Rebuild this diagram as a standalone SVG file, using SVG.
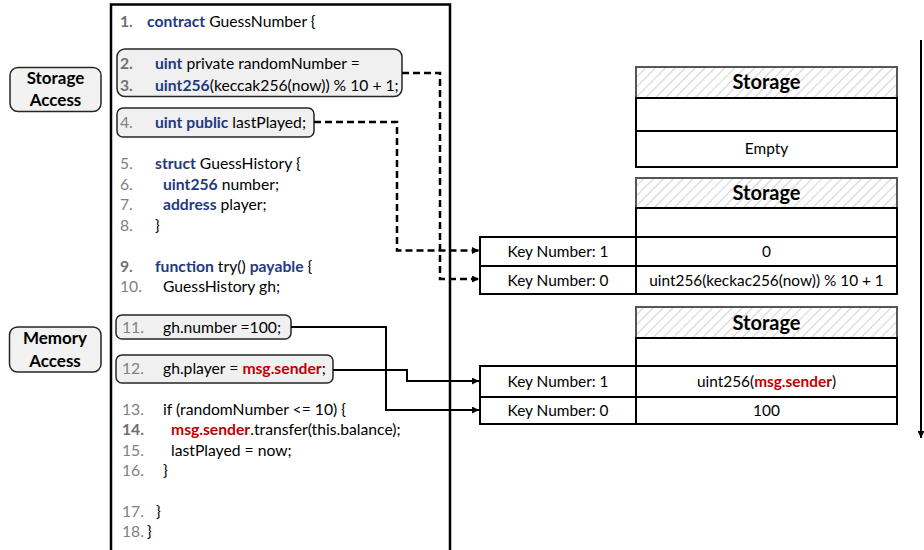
<svg xmlns="http://www.w3.org/2000/svg" width="924" height="550" viewBox="0 0 924 550">
  <defs>
    <pattern id="hatch" patternUnits="userSpaceOnUse" width="7" height="7" patternTransform="rotate(45)">
      <rect width="7" height="7" fill="#ffffff"/>
      <line x1="0" y1="0" x2="0" y2="7" stroke="#d4d4d4" stroke-width="2.2"/>
    </pattern>
    <marker id="arrow" viewBox="0 0 10 10" refX="10" refY="5" markerWidth="8" markerHeight="7" markerUnits="userSpaceOnUse" orient="auto">
      <path d="M0,0 L10,5 L0,10 z" fill="#000000"/>
    </marker>
    <marker id="arrowDown" viewBox="0 0 10 10" refX="10" refY="5" markerWidth="9" markerHeight="7" markerUnits="userSpaceOnUse" orient="auto">
      <path d="M0,0 L10,5 L0,10 z" fill="#000000"/>
    </marker>
  </defs>
  <style>
    text { font-family: Lato, "Open Sans", "Liberation Sans", sans-serif; fill: #000000; }
    .code { font-size: 15.7px; }
    .ln { fill: #808080; }
    .lnb { fill: #707070; font-weight: bold; }
    .kw { fill: #1f3a80; font-weight: bold; }
    .red { fill: #c00000; font-weight: bold; }
    .label { font-size: 17px; font-weight: bold; text-anchor: middle; }
    .tag { fill: #f2f2f2; stroke: #262626; stroke-width: 1.5; }
    .hl { fill: #f0f0f0; stroke: #262626; stroke-width: 1.5; }
    .cell { fill: #ffffff; stroke: #000000; stroke-width: 2; }
    .head { fill: url(#hatch); stroke: #555555; stroke-width: 2; }
    .title { font-size: 20px; font-weight: bold; text-anchor: middle; }
    .val { font-size: 15.4px; text-anchor: middle; }
    .dash { fill: none; stroke: #000000; stroke-width: 2.5; stroke-dasharray: 7 4; }
    .solid { fill: none; stroke: #000000; stroke-width: 2; }
  </style>

  <!-- side labels -->
  <g id="storage-access">
    <rect class="tag" x="10" y="67.5" width="91" height="44" rx="8"/>
    <text class="label" x="55.5" y="84">Storage</text>
    <text class="label" x="55.5" y="106">Access</text>
  </g>
  <g id="memory-access">
    <rect class="tag" x="9.5" y="327" width="91.5" height="45" rx="8"/>
    <text class="label" x="55" y="344">Memory</text>
    <text class="label" x="55" y="367">Access</text>
  </g>

  <!-- source listing -->
  <g id="code">
    <path d="M111,560 V4.5 H450 V560" fill="none" stroke="#000000" stroke-width="2.5"/>
    <rect class="hl" x="117" y="49" width="285" height="47.5" rx="8"/>
    <rect class="hl" x="117" y="108" width="197" height="29" rx="6"/>
    <rect class="hl" x="116" y="315" width="175" height="24" rx="6"/>
    <rect class="hl" x="116" y="355" width="217" height="28" rx="6"/>
    <g class="code">
      <text x="120" y="26.5"><tspan class="lnb">1.</tspan><tspan x="147" class="kw">contract</tspan> GuessNumber {</text>
      <text x="120" y="69"><tspan class="lnb">2.</tspan><tspan x="155" class="kw">uint</tspan> private randomNumber =</text>
      <text x="120" y="91"><tspan class="lnb">3.</tspan><tspan x="155" class="kw">uint256</tspan>(keccak256(now)) % 10 + 1;</text>
      <text x="120" y="128"><tspan class="ln">4.</tspan><tspan x="155" class="kw">uint public</tspan> lastPlayed;</text>
      <text x="120" y="169"><tspan class="ln">5.</tspan><tspan x="155" class="kw">struct</tspan> GuessHistory {</text>
      <text x="120" y="190"><tspan class="ln">6.</tspan><tspan x="163" class="kw">uint256</tspan> number;</text>
      <text x="120" y="210"><tspan class="ln">7.</tspan><tspan x="163" class="kw">address</tspan> player;</text>
      <text x="120" y="230.5"><tspan class="ln">8.</tspan><tspan x="155">}</tspan></text>
      <text x="120" y="271.5"><tspan class="lnb">9.</tspan><tspan x="155" class="kw">function</tspan> try() <tspan class="kw">payable</tspan> {</text>
      <text x="120" y="291.5"><tspan class="ln">10.</tspan><tspan x="163">GuessHistory gh;</tspan></text>
      <text x="122" y="332.5"><tspan class="ln">11.</tspan><tspan x="163">gh.number =100;</tspan></text>
      <text x="122" y="373.5"><tspan class="ln">12.</tspan><tspan x="163">gh.player = </tspan><tspan class="red">msg.sender</tspan>;</text>
      <text x="122" y="415"><tspan class="ln">13.</tspan><tspan x="163">if (randomNumber &lt;= 10) {</tspan></text>
      <text x="122" y="435"><tspan class="lnb">14.</tspan><tspan x="171" class="red">msg.sender</tspan>.transfer(this.balance);</text>
      <text x="122" y="455.5"><tspan class="ln">15.</tspan><tspan x="171">lastPlayed = now;</tspan></text>
      <text x="122" y="475.5"><tspan class="ln">16.</tspan><tspan x="163">}</tspan></text>
      <text x="122" y="516.5"><tspan class="ln">17.</tspan><tspan x="156">}</tspan></text>
      <text x="122" y="536.5"><tspan class="ln">18.</tspan><tspan x="147">}</tspan></text>
    </g>
  </g>

  <!-- storage state before -->
  <g id="storage-empty">
    <rect class="head" x="636" y="67" width="261" height="31"/>
    <rect class="cell" x="636" y="98" width="261" height="33"/>
    <rect class="cell" x="636" y="131" width="261" height="36"/>
    <text class="title" x="766.5" y="89">Storage</text>
    <text class="val" x="766.5" y="154">Empty</text>
  </g>

  <!-- storage after state variables -->
  <g id="storage-state">
    <rect class="head" x="636" y="178" width="261" height="30"/>
    <rect class="cell" x="636" y="208" width="261" height="29"/>
    <rect class="cell" x="636" y="237" width="261" height="29"/>
    <rect class="cell" x="636" y="266" width="261" height="28"/>
    <rect class="cell" x="480" y="237" width="156" height="29"/>
    <rect class="cell" x="480" y="266" width="156" height="28"/>
    <text class="title" x="766.5" y="200">Storage</text>
    <text class="val" x="558" y="257">Key Number: 1</text>
    <text class="val" x="766.5" y="257">0</text>
    <text class="val" x="558" y="285.5">Key Number: 0</text>
    <text class="val" x="766.5" y="285.5">uint256(keckac256(now)) % 10 + 1</text>
  </g>

  <!-- storage after struct writes -->
  <g id="storage-struct">
    <rect class="head" x="636" y="307" width="261" height="31"/>
    <rect class="cell" x="636" y="338" width="261" height="28"/>
    <rect class="cell" x="636" y="366" width="261" height="31"/>
    <rect class="cell" x="636" y="397" width="261" height="27"/>
    <rect class="cell" x="480" y="366" width="156" height="31"/>
    <rect class="cell" x="480" y="397" width="156" height="27"/>
    <text class="title" x="766.5" y="330">Storage</text>
    <text class="val" x="558" y="386.5">Key Number: 1</text>
    <text class="val" x="766.5" y="386.5">uint256(<tspan class="red">msg.sender</tspan>)</text>
    <text class="val" x="558" y="415.5">Key Number: 0</text>
    <text class="val" x="766.5" y="415.5">100</text>
  </g>

  <!-- connectors -->
  <g id="connectors">
    <path class="dash" d="M402,73 H440 V279 H479" marker-end="url(#arrow)"/>
    <path class="dash" d="M314,122 H397 V250.5 H479" marker-end="url(#arrow)"/>
    <path class="solid" d="M291,327 H386 V410 H479" marker-end="url(#arrow)"/>
    <path class="solid" d="M333,370 H407 V381 H479" marker-end="url(#arrow)"/>
    <path class="solid" d="M921,40 V438" stroke-width="1.5" marker-end="url(#arrowDown)"/>
  </g>
</svg>
